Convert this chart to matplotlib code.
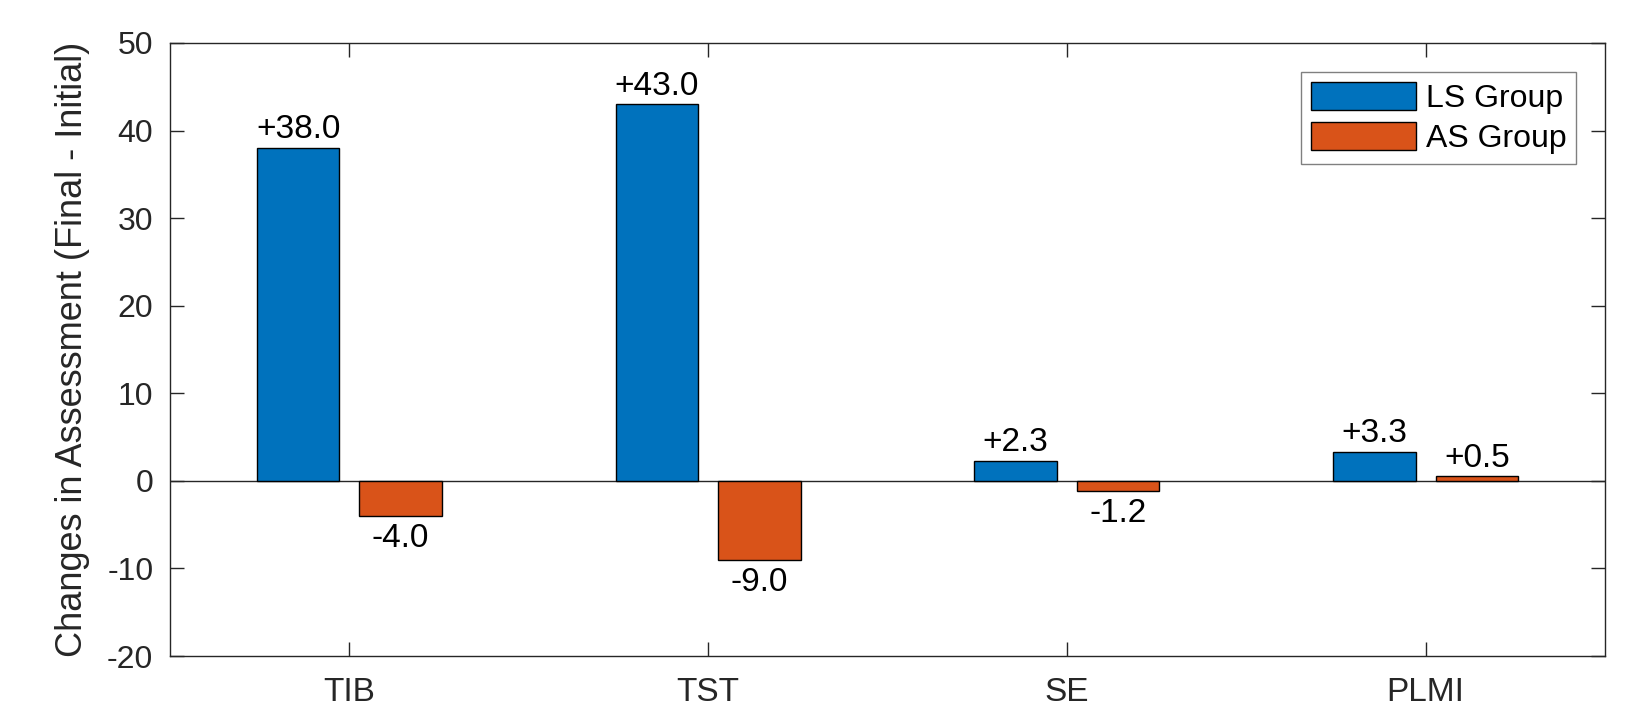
import matplotlib.pyplot as plt
import numpy as np

plt.rcParams['font.family'] = ['Liberation Sans', 'DejaVu Sans']
plt.rcParams['axes.unicode_minus'] = False

categories = ["TIB", "TST", "SE", "PLMI"]
ls_group = [38.0, 43.0, 2.3, 3.3]
as_group = [-4.0, -9.0, -1.2, 0.5]
series_names = ["LS Group", "AS Group"]

W, H = 1637, 712
fig = plt.figure(figsize=(W / 100, H / 100), dpi=100)
ax = fig.add_axes([170 / W, (H - 656) / H, 1435 / W, 613 / H])

x = np.arange(1, len(categories) + 1)
width = 0.23
off = 0.143
b1 = ax.bar(x - off, ls_group, width, color="#0072BD", edgecolor="black",
            linewidth=1.0, label=series_names[0], zorder=3)
b2 = ax.bar(x + off, as_group, width, color="#D95319", edgecolor="black",
            linewidth=1.0, label=series_names[1], zorder=3)

# bar baseline
ax.axhline(0, color="#262626", linewidth=1.0, zorder=2)

for bars, vals in [(b1, ls_group), (b2, as_group)]:
    for rect, v in zip(bars, vals):
        cx = rect.get_x() + rect.get_width() / 2
        lab = f"{v:+.1f}"
        if v >= 0:
            ax.annotate(lab, (cx, v), xytext=(0, 7), textcoords="offset points",
                        ha="center", va="baseline", fontsize=24, color="black")
        else:
            ax.annotate(lab, (cx, v), xytext=(0, -5), textcoords="offset points",
                        ha="center", va="top", fontsize=24, color="black")

ax.set_xlim(0.5, 4.5)
ax.set_ylim(-20, 50)
ax.set_xticks(x)
ax.set_xticklabels(categories)
ax.set_yticks(np.arange(-20, 51, 10))
ax.tick_params(direction="in", top=True, right=True, length=10, width=1.0,
               colors="#262626")
ax.tick_params(axis="y", labelsize=23, pad=12)
ax.tick_params(axis="x", labelsize=24, pad=15)
for s in ax.spines.values():
    s.set_color("#262626")
    s.set_linewidth(1.0)

ax.set_ylabel("Changes in Assessment (Final - Initial)", fontsize=26,
              color="#262626")
ax.yaxis.set_label_coords(-0.0557, 0.5)

leg = ax.legend(loc="upper right", bbox_to_anchor=((1576 - 170) / 1435, 1 - 29 / 613),
                fontsize=23, fancybox=False, framealpha=1, handlelength=3.3,
                handleheight=1.0, borderpad=0.3, labelspacing=0.25, handletextpad=0.3,
                borderaxespad=0)
leg.get_frame().set_edgecolor("#808080")
leg.get_frame().set_linewidth(1.0)

fig.savefig("out.png", dpi=100)
